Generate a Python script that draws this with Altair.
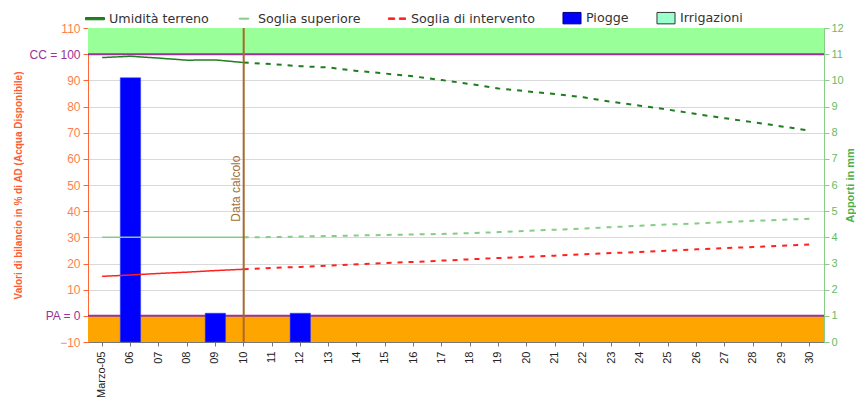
import altair as alt
import pandas as pd

# ---------------- data ----------------
giorni = ["Marzo-05", "06", "07", "08", "09", "10", "11", "12", "13", "14", "15", "16", "17",
          "18", "19", "20", "21", "22", "23", "24", "25", "26", "27", "28", "29", "30"]
giorni_oss = ["Marzo-05", "06", "07", "08", "09", "10"]
giorni_prev = ["10", "11", "12", "13", "14", "15", "16", "17", "18", "19", "20", "21", "22",
               "23", "24", "25", "26", "27", "28", "29", "30"]

umidita_oss = [98.7, 99.2, 98.5, 97.7, 97.8, 96.8]
umidita_prev = [96.8, 96.2, 95.4, 94.9, 93.6, 92.6, 91.5, 90.1, 88.6, 86.9, 85.8, 84.8, 83.5,
                81.8, 80.3, 78.8, 77.1, 75.5, 74.0, 72.4, 70.8]

sup_oss = [30.0, 30.0, 30.0, 30.0, 30.0, 30.0]
sup_prev = [30.0, 30.1, 30.3, 30.5, 30.7, 30.9, 31.1, 31.3, 31.6, 32.0, 32.5, 32.9, 33.4,
            33.9, 34.4, 34.9, 35.3, 35.8, 36.3, 36.7, 37.1]

int_oss = [15.1, 15.6, 16.2, 16.7, 17.3, 17.8]
int_prev = [17.8, 18.3, 18.7, 19.2, 19.7, 20.2, 20.6, 21.1, 21.6, 22.1, 22.5, 23.0, 23.5,
            24.0, 24.4, 24.9, 25.4, 25.9, 26.3, 26.8, 27.3]

piogge_giorni = ["06", "09", "12"]
piogge_mm = [10.1, 1.1, 1.1]

y_ticks = [-10, 0, 10, 20, 30, 40, 50, 60, 70, 80, 90, 100, 110]
mm_ticks = [0, 1, 2, 3, 4, 5, 6, 7, 8, 9, 10, 11, 12]

fasce_da = [100, -10]
fasce_a = [110, 0]
fasce_colori = ["#99FF99", "#FFA500"]
limiti = [100, 0]
data_calcolo = "10"

voci = ["Umidità terreno", "Soglia superiore", "Soglia di intervento", "Piogge", "Irrigazioni"]
voci_fill = ["#1E7D1E", "#85CC85", "#FF2020", "#0000FF", "#99FFCC"]
voci_stroke = ["#1E7D1E", "#85CC85", "#FF2020", "#000080", "#333333"]
voci_shape = [
    "M-1,-0.12H1V0.12H-1Z",
    "M-0.5,-0.05H0.5V0.05H-0.5Z",
    "M-0.9,-0.08H-0.25V0.08H-0.9Z M0.25,-0.08H0.9V0.08H0.25Z",
    "M-0.95,-0.6H0.95V0.6H-0.95Z",
    "M-0.95,-0.6H0.95V0.6H-0.95Z",
]

# ---------------- frames ----------------
def serie(oss, prev):
    return pd.DataFrame({
        "giorno": giorni_oss + giorni_prev,
        "valore": oss + prev,
        "fase": ["oss"] * len(oss) + ["prev"] * len(prev),
    })

df_um = serie(umidita_oss, umidita_prev)
df_sup = serie(sup_oss, sup_prev)
df_int = serie(int_oss, int_prev)
df_piogge = pd.DataFrame({"giorno": piogge_giorni, "mm": piogge_mm})
df_fasce = pd.DataFrame({"da": fasce_da, "a": fasce_a, "colore": fasce_colori})
df_limiti = pd.DataFrame({"v": limiti})
df_vline = pd.DataFrame({"giorno": [data_calcolo]})
df_testo = pd.DataFrame({"giorno": [data_calcolo], "v": [36], "testo": ["Data calcolo"]})
df_leg = pd.DataFrame({"voce": voci})

FONT = "Liberation Sans"

X = alt.X(
    "giorno:N",
    scale=alt.Scale(domain=giorni, paddingInner=0.28, paddingOuter=0.14),
    axis=alt.Axis(title=None, labelAngle=270, labelFont=FONT, labelFontSize=11,
                  labelColor="#222222", tickColor="#777777", tickSize=4, labelPadding=5,
                  domainColor="#777777", grid=False),
)

yscale = alt.Scale(domain=[-10, 110], nice=False, zero=False)

left_axis = alt.Axis(
    values=y_ticks,
    title="Valori di bilancio in % di AD (Acqua Disponibile)",
    titleColor="#FF5C33", titleFont=FONT, titleFontSize=10, titleFontWeight="bold",
    titlePadding=5,
    labelFont=FONT, labelFontSize=12,
    labelColor={"condition": {"test": "datum.value == 100 || datum.value == 0", "value": "#993399"},
                "value": "#FF7F50"},
    labelExpr="datum.value == 100 ? 'CC = 100' : (datum.value == 0 ? 'PA = 0' : datum.label)",
    domainColor="#FF6633", tickColor="#FF6633", tickSize=5, labelPadding=3,
    grid=True, gridColor="#D9D9D9",
)

# ---------------- background group (left axis) ----------------
fasce = alt.Chart(df_fasce).mark_rect().encode(
    x=alt.value(0), x2=alt.value("width"),
    y=alt.Y("da:Q", scale=yscale, axis=left_axis),
    y2="a:Q",
    color=alt.Color("colore:N", scale=None),
)
linee_limite = alt.Chart(df_limiti).mark_rule(color="#993399", strokeWidth=2).encode(
    y=alt.Y("v:Q", scale=yscale, axis=left_axis),
)
sfondo = alt.layer(fasce, linee_limite)

# ---------------- bars (right axis) ----------------
barre = alt.Chart(df_piogge).mark_bar(color="#0000FF", stroke="#3344FF", strokeWidth=0.5).encode(
    x=X,
    y=alt.Y("mm:Q", scale=alt.Scale(domain=[0, 12], nice=False),
            axis=alt.Axis(orient="right", values=mm_ticks, title="Apporti in mm",
                          titleColor="#4CAF4C", titleFont=FONT, titleFontSize=11,
                          titleFontWeight="bold", titleAngle=270, titlePadding=12,
                          labelFont=FONT, labelFontSize=11, labelColor="#66BB66",
                          domainColor="#88CC88", tickColor="#88CC88", tickSize=5,
                          labelPadding=2, grid=False)),
)

# ---------------- foreground group ----------------
def linea(df, colore, w_solid, w_dash, dash):
    return alt.Chart(df).mark_line(color=colore).encode(
        x=X,
        y=alt.Y("valore:Q", scale=yscale, axis=None),
        strokeDash=alt.StrokeDash("fase:N", scale=alt.Scale(domain=["oss", "prev"], range=[[1, 0], dash]),
                                  legend=None),
        strokeWidth=alt.StrokeWidth("fase:N", scale=alt.Scale(domain=["oss", "prev"], range=[w_solid, w_dash]),
                                    legend=None),
    )

l_sup = linea(df_sup, "#85CC85", 1.5, 2, [5, 6])
l_int = linea(df_int, "#FF2020", 2, 2.5, [6, 5])
l_um = linea(df_um, "#1E7D1E", 3, 4, [6, 5])

vline = alt.Chart(df_vline).mark_rule(color="#A8692A", strokeWidth=2).encode(x=X)
testo = alt.Chart(df_testo).mark_text(angle=270, align="left", baseline="bottom", dy=-1,
                                      color="#A0703A", font=FONT, fontSize=12).encode(
    x=X, y=alt.Y("v:Q", scale=yscale, axis=None), text="testo:N"
)

leg = alt.Legend(orient="none", legendX=-3, legendY=-20, direction="horizontal", title=None,
                 labelFont="DejaVu Sans", labelFontSize=12.7, labelColor="#333333",
                 symbolSize=361, symbolOpacity=1, symbolStrokeWidth=1, columnPadding=25,
                 labelOffset=4, padding=0)
legenda = alt.Chart(df_leg).mark_point(filled=True, opacity=0).encode(
    x=alt.value(0), y=alt.value(0),
    color=alt.Color("voce:N", scale=alt.Scale(domain=voci, range=voci_fill), legend=leg),
    shape=alt.Shape("voce:N", scale=alt.Scale(domain=voci, range=voci_shape), legend=leg),
    stroke=alt.Stroke("voce:N", scale=alt.Scale(domain=voci, range=voci_stroke), legend=leg),
)

primo_piano = alt.layer(l_sup, l_int, l_um, vline, testo, legenda)

chart = (
    alt.layer(sfondo, barre, primo_piano)
    .resolve_scale(y="independent")
    .properties(width=736, height=314, padding={"left": 5, "top": 0, "right": 0, "bottom": 0})
    .configure_view(stroke="#999999")
)

chart.save("out.html", embed_options={"renderer": "svg", "actions": False})
